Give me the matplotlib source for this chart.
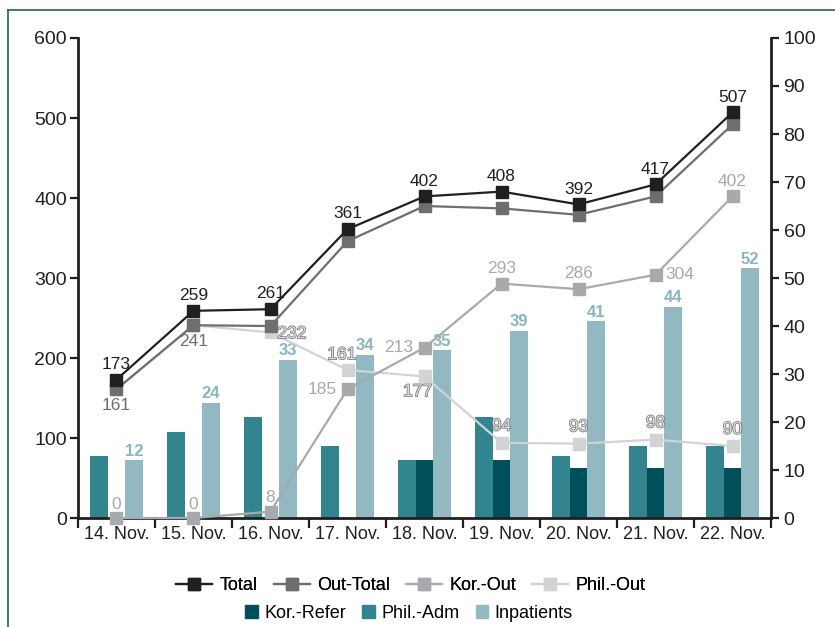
import matplotlib.pyplot as plt
import matplotlib.patheffects as pe
from matplotlib.lines import Line2D
from matplotlib.patches import Patch
import numpy as np

plt.rcParams['font.family'] = ['Liberation Sans', 'DejaVu Sans']

# -----------------------------------------------------------------------
# Data
# -----------------------------------------------------------------------
days = ["14. Nov.", "15. Nov.", "16. Nov.", "17. Nov.", "18. Nov.",
        "19. Nov.", "20. Nov.", "21. Nov.", "22. Nov."]

total = [173, 259, 261, 361, 402, 408, 392, 417, 507]
out_total = [161, 241, 240, 346, 390, 387, 379, 402, 492]
# on 17 Nov the markers sit at 161 (Kor.) / 185 (Phil.), labels say the reverse
kor_out = [0, 0, 8, 161, 213, 293, 286, 304, 402]
phil_out = [161, 241, 232, 185, 177, 94, 93, 98, 90]

kor_out_labels = ["0", "0", "8", "185", "213", "293", "286", "304", "402"]
phil_out_labels = [None, None, "232", "161", "177", "94", "93", "98", "90"]
out_total_labels = ["161", "241", None, None, None, None, None, None, None]

kor_refer = [0, 0, 0, 0, 12, 12, 10.5, 10.5, 10.5]
phil_adm = [13, 18, 21, 15, 12, 21, 13, 15, 15]
inpatients = [12, 24, 33, 34, 35, 39, 41, 44, 52]

# label placement per point: (dx, dy, ha) in points
kor_pos = [(0, 10, 'center'), (0, 10, 'center'), (0, 10, 'center'),
           (-8, 0, 'right'), (-8, 0, 'right'), (0, 11, 'center'),
           (0, 11, 'center'), (7, 0, 'left'), (0, 11, 'center')]
phil_pos = [None, None, (5, -1, 'left'), (-4, 11, 'center'), (-5, -11, 'center'),
            (0, 12, 'center'), (0, 12, 'center'), (0, 12, 'center'),
            (0, 12, 'center')]

C_TOTAL = '#231f20'
C_OUT = '#6d6e71'
C_KOR = '#a7a9ac'
C_PHIL = '#d1d3d4'
C_REFER = '#004f5a'
C_ADM = '#32848f'
C_INP = '#92b8c1'
C_TEXT = '#231f20'

# -----------------------------------------------------------------------
# Figure
# -----------------------------------------------------------------------
fig = plt.figure(figsize=(8.35, 6.27), dpi=100)
ax = fig.add_axes([0.0934, 0.1738, 0.83, 0.7656])
ax2 = ax.twinx()
ax.set_zorder(ax2.get_zorder() + 1)
ax.patch.set_visible(False)

x = np.arange(len(days))
w = 0.227

ax2.bar(x - w, phil_adm, w, color=C_ADM, zorder=2)
ax2.bar(x, kor_refer, w, color=C_REFER, zorder=2)
ax2.bar(x + w, inpatients, w, color=C_INP, zorder=2)
for xi, v in zip(x, inpatients):
    ax2.annotate(str(v), (xi + w, v), xytext=(0, 1), textcoords='offset points',
                 ha='center', va='bottom', fontsize=12, fontweight='bold',
                 color='#8ab5bf')

lkw = dict(marker='s', markersize=9, linewidth=1.6, clip_on=False)
ax.plot(x, phil_out, color=C_PHIL, zorder=4, **lkw)
ax.plot(x, kor_out, color=C_KOR, zorder=5, **lkw)
ax.plot(x, out_total, color=C_OUT, zorder=6, **lkw)
ax.plot(x, total, color=C_TOTAL, zorder=7, **lkw)

for xi, v in zip(x, total):
    ax.annotate(str(v), (xi, v), xytext=(0, 11), textcoords='offset points',
                ha='center', va='center', fontsize=12.5, color=C_TEXT, zorder=8)

for xi, v, t in zip(x, out_total, out_total_labels):
    if t:
        ax.annotate(t, (xi, v), xytext=(0, -12), textcoords='offset points',
                    ha='center', va='center', fontsize=12.5, color=C_OUT, zorder=8)

for xi, v, t, p in zip(x, kor_out, kor_out_labels, kor_pos):
    ax.annotate(t, (xi, v), xytext=p[:2], textcoords='offset points',
                ha=p[2], va='center', fontsize=12.5, color=C_KOR, zorder=8)

for xi, v, t, p in zip(x, phil_out, phil_out_labels, phil_pos):
    if t:
        ax.annotate(t, (xi, v), xytext=p[:2], textcoords='offset points',
                    ha=p[2], va='center', fontsize=12.5, color='#dcdddf', zorder=8,
                    path_effects=[pe.withStroke(linewidth=1.0, foreground=C_OUT)])

# axes
ax.set_xlim(-0.5, len(days) - 0.5)
ax.set_ylim(0, 600)
ax2.set_ylim(0, 100)
ax.set_yticks(range(0, 601, 100))
ax2.set_yticks(range(0, 101, 10))
ax.set_xticks(x)
ax.set_xticklabels(days)
ax.set_xticks(np.arange(-0.5, len(days)), minor=True)

for s in ['top', 'right']:
    ax.spines[s].set_visible(False)
for s in ['top', 'left', 'bottom']:
    ax2.spines[s].set_visible(False)
for s in ['left', 'bottom']:
    ax.spines[s].set_linewidth(2)
    ax.spines[s].set_color(C_TEXT)
ax2.spines['right'].set_linewidth(2)
ax2.spines['right'].set_color(C_TEXT)

ax.tick_params(axis='y', length=6, width=1.6, color=C_TEXT, labelsize=14,
               labelcolor=C_TEXT, pad=2)
ax2.tick_params(axis='y', length=6, width=1.6, color=C_TEXT, labelsize=14,
                labelcolor=C_TEXT, pad=3)
ax.tick_params(axis='x', which='major', length=0, labelsize=13,
               labelcolor=C_TEXT, pad=6)
ax.tick_params(axis='x', which='minor', length=7, width=1.6, color=C_TEXT)

# legends
line_handles = [Line2D([], [], color=c, marker='s', markersize=8, linewidth=1.6)
                for c in (C_TOTAL, C_OUT, C_KOR, C_PHIL)]
leg1 = fig.legend(line_handles, ["Total", "Out-Total", "Kor.-Out", "Phil.-Out"],
                  loc='center', bbox_to_anchor=(0.492, 0.066), ncol=4,
                  frameon=False, fontsize=13, handlelength=2.0,
                  handletextpad=0.4, columnspacing=0.9, borderpad=0)
bar_handles = [Patch(color=c) for c in (C_REFER, C_ADM, C_INP)]
fig.legend(bar_handles, ["Kor.-Refer", "Phil.-Adm", "Inpatients"],
           loc='center', bbox_to_anchor=(0.49, 0.022), ncol=3,
           frameon=False, fontsize=13, handlelength=0.7, handleheight=0.7,
           handletextpad=0.35, columnspacing=0.9, borderpad=0)
fig.add_artist(leg1)

# frame lines at the top and left edge
fig.add_artist(Line2D([8 / 835, 8 / 835], [0, 1 - 10 / 627], color='#1d5f69',
                      linewidth=1.2, transform=fig.transFigure))
fig.add_artist(Line2D([8 / 835, 1], [1 - 10 / 627, 1 - 10 / 627], color='#1d5f69',
                      linewidth=1.2, transform=fig.transFigure))

fig.savefig("out.png", dpi=100)
